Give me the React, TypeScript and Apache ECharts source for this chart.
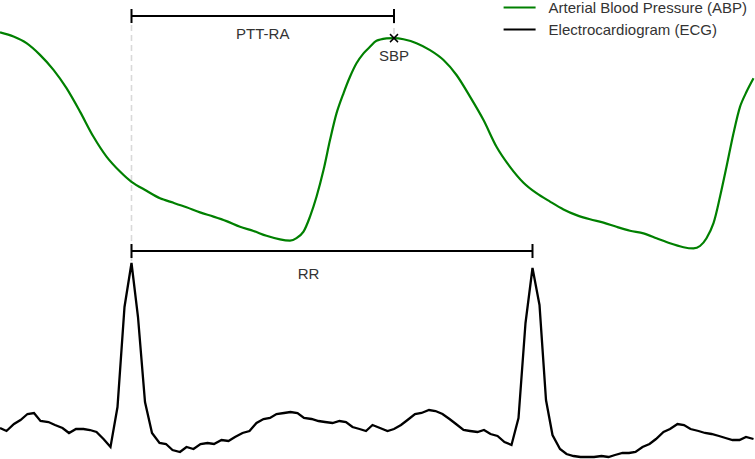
import React, { useEffect, useRef } from "react";
import * as echarts from "echarts";

// time in ms, ECG in mV
const ecgTime = [0, 13, 28, 41, 55, 68, 81, 97, 110, 125, 138, 152, 167, 180, 193, 207, 221, 235, 249, 263, 276, 290, 304, 319, 332, 345, 360, 373, 387, 401, 415, 428, 443, 457, 470, 485, 499, 513, 527, 540, 553, 568, 581, 595, 608, 623, 637, 650, 665, 679, 692, 705, 719, 732, 745, 760, 775, 788, 802, 815, 830, 843, 858, 871, 885, 899, 912, 927, 940, 955, 968, 981, 995, 1009, 1023, 1037, 1051, 1065, 1079, 1092, 1105, 1120, 1133, 1147, 1161, 1175, 1188, 1203, 1217, 1230, 1245, 1258, 1271, 1285, 1299, 1312, 1327, 1340, 1355, 1368, 1381, 1397, 1410, 1423, 1438, 1451, 1465, 1479, 1492, 1507];
const ecgValues = [0.02, -0.01, 0.06, 0.10, 0.16, 0.17, 0.09, 0.08, 0.05, 0.02, -0.03, 0.01, 0.01, 0.00, -0.02, -0.09, -0.17, 0.23, 1.23, 1.67, 1.13, 0.28, -0.03, -0.13, -0.14, -0.20, -0.22, -0.17, -0.19, -0.14, -0.13, -0.14, -0.10, -0.11, -0.07, -0.03, -0.01, 0.07, 0.11, 0.12, 0.16, 0.17, 0.18, 0.17, 0.12, 0.11, 0.09, 0.08, 0.07, 0.09, 0.08, 0.03, 0.01, -0.01, 0.05, 0.02, -0.01, 0.01, 0.05, 0.10, 0.16, 0.17, 0.20, 0.19, 0.16, 0.11, 0.06, 0.00, -0.01, -0.02, 0.00, -0.04, -0.06, -0.12, -0.15, 0.12, 1.07, 1.62, 1.25, 0.30, -0.05, -0.19, -0.24, -0.26, -0.27, -0.27, -0.27, -0.26, -0.27, -0.25, -0.23, -0.23, -0.22, -0.17, -0.14, -0.09, -0.02, 0.01, 0.06, 0.05, 0.01, -0.01, -0.03, -0.04, -0.06, -0.08, -0.10, -0.10, -0.07, -0.09];

// time in ms, ABP in mmHg
const abpTime = [0, 27, 53, 80, 107, 133, 160, 187, 213, 240, 263, 293, 320, 347, 373, 400, 427, 453, 480, 507, 533, 560, 580, 593, 607, 620, 633, 647, 660, 673, 687, 700, 713, 727, 740, 753, 773, 788, 807, 833, 860, 887, 913, 940, 967, 993, 1020, 1047, 1073, 1100, 1127, 1153, 1180, 1207, 1233, 1260, 1287, 1313, 1340, 1367, 1387, 1400, 1413, 1427, 1440, 1453, 1467, 1480, 1493, 1507];
const abpValues = [139.2, 137.8, 135.6, 131.7, 126.7, 120.6, 112.8, 104.4, 97.8, 92.8, 89.4, 86.4, 83.9, 82.4, 80.9, 79.2, 77.8, 76.3, 74.4, 73.0, 71.4, 70.2, 69.8, 70.6, 72.8, 77.8, 84.4, 93.3, 103.3, 112.2, 118.9, 124.4, 128.9, 132.2, 134.4, 136.4, 137.2, 137.3, 136.9, 135.6, 133.3, 130.0, 125.0, 117.8, 110.0, 101.1, 94.4, 89.1, 85.6, 82.8, 80.2, 78.3, 76.9, 75.8, 74.4, 73.1, 72.2, 70.6, 68.9, 67.6, 67.2, 68.0, 70.6, 75.6, 84.4, 94.4, 105.6, 114.4, 119.4, 123.9];

// key events
const rPeak1 = [263, 1.67];
const rPeak2 = [1065, 1.62];
const sbpPoint = [788, 137.3];
const seriesNames = ["Arterial Blood Pressure (ABP)", "Electrocardiogram (ECG)"];
const labels = { ptt: "PTT-RA", sbp: "SBP", rr: "RR" };

export default function App() {
  const ref = useRef<HTMLDivElement>(null);
  useEffect(() => {
    document.body.style.margin = "0";
    if (!ref.current) return;
    const chart = echarts.init(ref.current, undefined, { renderer: "svg" });
    const font = "Liberation Sans, Arial, Helvetica, sans-serif";
    chart.setOption({
      animation: false,
      grid: { left: 0, right: 0, top: 0, bottom: 0 },
      xAxis: { type: "value", min: 0, max: 1510, show: false },
      yAxis: [
        { type: "value", min: -3, max: 150, show: false },
        { type: "value", min: -0.29, max: 4.3, show: false },
      ],
      legend: {
        orient: "vertical",
        right: 8,
        top: 0,
        padding: 0,
        icon: "path://M0 0H32V2H0Z",
        itemWidth: 32,
        itemHeight: 2,
        itemGap: 7,
        align: "left",
        textStyle: { fontFamily: font, fontSize: 15, color: "#333", padding: [0, 0, 0, 8] },
        data: seriesNames,
      },
      series: [
        {
          name: seriesNames[0],
          type: "line",
          xAxisIndex: 0,
          yAxisIndex: 0,
          data: abpTime.map((t, i) => [t, abpValues[i]]),
          showSymbol: false,
          symbol: "none",
          smooth: 0.3,
          lineStyle: { color: "#008000", width: 2.2 },
          itemStyle: { color: "#008000" },
        },
        {
          name: seriesNames[1],
          type: "line",
          xAxisIndex: 0,
          yAxisIndex: 1,
          data: ecgTime.map((t, i) => [t, ecgValues[i]]),
          showSymbol: false,
          symbol: "none",
          lineStyle: { color: "#000", width: 2.3, join: "miter" },
          itemStyle: { color: "#000" },
        },
      ],
    });

    const toPx = (p: number[], yi: number) =>
      chart.convertToPixel({ xAxisIndex: 0, yAxisIndex: yi }, p) as number[];
    const r1 = toPx(rPeak1, 1);
    const r2 = toPx(rPeak2, 1);
    const sbp = toPx(sbpPoint, 0);
    const pttY = 16;
    const rrY = 251;
    const tick = 7;
    const dash = { stroke: "#d9d9d9", lineWidth: 1.6, lineDash: [6, 4] };
    const black = { stroke: "#000", lineWidth: 2 };
    const txt = { fontFamily: font, fontSize: 15, fill: "#333", align: "center", verticalAlign: "middle" };
    const cs = 4;

    chart.setOption({
      graphic: [
        { type: "line", shape: { x1: r1[0], y1: r1[1] - 2, x2: r1[0], y2: pttY + tick }, style: dash, z: 1 },
        { type: "line", shape: { x1: sbp[0], y1: sbp[1] - 4, x2: sbp[0], y2: pttY + tick }, style: dash, z: 1 },
        // PTT bracket
        { type: "line", shape: { x1: r1[0], y1: pttY, x2: sbp[0], y2: pttY }, style: black, z: 5 },
        { type: "line", shape: { x1: r1[0], y1: pttY - tick, x2: r1[0], y2: pttY + tick }, style: black, z: 5 },
        { type: "line", shape: { x1: sbp[0], y1: pttY - tick, x2: sbp[0], y2: pttY + tick }, style: black, z: 5 },
        { type: "text", x: (r1[0] + sbp[0]) / 2, y: pttY + 17.5, style: { ...txt, text: labels.ptt }, z: 5 },
        // SBP cross
        { type: "line", shape: { x1: sbp[0] - cs, y1: sbp[1] - cs, x2: sbp[0] + cs, y2: sbp[1] + cs }, style: { stroke: "#000", lineWidth: 1.5 }, z: 6 },
        { type: "line", shape: { x1: sbp[0] - cs, y1: sbp[1] + cs, x2: sbp[0] + cs, y2: sbp[1] - cs }, style: { stroke: "#000", lineWidth: 1.5 }, z: 6 },
        { type: "text", x: sbp[0], y: sbp[1] + 17, style: { ...txt, text: labels.sbp }, z: 5 },
        // RR bracket
        { type: "line", shape: { x1: r1[0], y1: rrY, x2: r2[0], y2: rrY }, style: black, z: 5 },
        { type: "line", shape: { x1: r1[0], y1: rrY - tick, x2: r1[0], y2: rrY + tick }, style: black, z: 5 },
        { type: "line", shape: { x1: r2[0], y1: rrY - tick, x2: r2[0], y2: rrY + tick }, style: black, z: 5 },
        { type: "text", x: (r1[0] + r2[0]) / 2 - 23.5, y: rrY + 22, style: { ...txt, text: labels.rr }, z: 5 },
      ],
    });
    return () => chart.dispose();
  }, []);
  return <div ref={ref} style={{ width: 755, height: 459 }} />;
}
